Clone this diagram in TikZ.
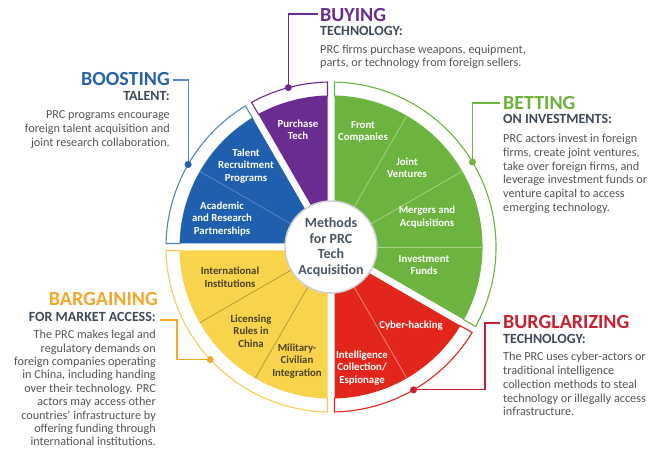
\documentclass[tikz,border=0pt]{standalone}
\usepackage{fontspec}
\setmainfont{Carlito}
\usetikzlibrary{calc}

\definecolor{cPurple}{HTML}{6B2C91}
\definecolor{cBlue}{HTML}{1F5FAE}
\definecolor{cGreen}{HTML}{6DB33F}
\definecolor{cRed}{HTML}{E2261C}
\definecolor{cYellow}{HTML}{F8D44C}
\definecolor{lBlue}{HTML}{5A86C6}
\definecolor{lGreen}{HTML}{A9D383}
\definecolor{lRed}{HTML}{F0847A}
\definecolor{lYellow}{HTML}{B59A35}
\definecolor{rYellow}{HTML}{F3CF52}
\definecolor{hBlue}{HTML}{2A62AA}
\definecolor{hPurple}{HTML}{6B2E8F}
\definecolor{hGreen}{HTML}{6CB23A}
\definecolor{hRed}{HTML}{C8202F}
\definecolor{hOrange}{HTML}{F5A62B}
\definecolor{subText}{HTML}{3F4A56}
\definecolor{bodyText}{HTML}{555555}
\definecolor{hubText}{HTML}{4A5560}
\definecolor{hubLine}{HTML}{CFCFCF}
\definecolor{darkLabel}{HTML}{4B4226}

% one group of methods: outlined outer band plus filled wedge
% #1 start angle, #2 end angle, #3 wedge colour, #4 band outline colour
\newcommand\methodgroup[4]{%
  \filldraw[fill=white, draw=#4, line width=1.1pt]
    ({#1+1.22}:165) arc[start angle={#1+1.22}, end angle={#2-1.22}, radius=165]
    -- ({#2-1.33}:151) arc[start angle={#2-1.33}, end angle={#1+1.33}, radius=151] -- cycle;
  \fill[#3] ({#1+5.02}:40) -- ({#1+1.33}:151)
    arc[start angle={#1+1.33}, end angle={#2-1.33}, radius=151]
    -- ({#2-5.02}:40) -- cycle;
}

\tikzset{
  head/.style={font=\fontsize{20}{22}\selectfont\bfseries, inner sep=0pt},
  subhead/.style={font=\fontsize{14}{16}\selectfont\bfseries, text=subText, inner sep=0pt},
  body/.style={font=\fontsize{12.2}{13.8}\selectfont, text=bodyText, inner sep=0pt},
  wlabel/.style={font=\fontsize{10.8}{12.5}\selectfont\bfseries, text=white, align=center, inner sep=0pt},
  divider/.style={line width=0.8pt},
  callout/.style={line width=1.1pt},
  dot/.style={circle, fill, inner sep=0pt, minimum size=7pt},
}

\begin{document}
\begin{tikzpicture}[x=1pt,y=1pt]
\useasboundingbox (0,0) rectangle (651,450);
\fill[white] (0,0) rectangle (651,450);

\begin{scope}[shift={(331,203)}]
  \methodgroup{90}{120}{cPurple}{cPurple}
  \methodgroup{120}{180}{cBlue}{lBlue}
  \methodgroup{180}{270}{cYellow}{rYellow}
  \methodgroup{270}{330}{cRed}{cRed}
  \methodgroup{-30}{90}{cGreen}{cGreen}

  % dividers between the single methods of a group
  \draw[divider, lBlue] (150:46) -- (150:151);
  \draw[divider, lYellow] (210:46) -- (210:151);
  \draw[divider, lYellow] (240:46) -- (240:151);
  \draw[divider, lRed] (300:46) -- (300:151);
  \draw[divider, lGreen] (0:46) -- (0:151);
  \draw[divider, lGreen] (30:46) -- (30:151);
  \draw[divider, lGreen] (60:46) -- (60:151);

  \node[circle, fill=white, draw=hubLine, line width=1.5pt, minimum size=92pt, inner sep=0pt] (hub) at (0,0) {};

  \coordinate (dBoost) at (150:165);
  \coordinate (dBuy) at (105:165);
  \coordinate (dBet) at (31:165);
  \coordinate (dBurg) at (-60:165);
  \coordinate (dBarg) at (223:165);
\end{scope}

\node[font=\fontsize{14}{15.5}\selectfont\bfseries, text=hubText, align=center, inner sep=0pt] (hubText) at (hub.center) {Methods\\for PRC\\Tech\\Acquisition};

% labels inside the wedges
\node[wlabel] (purchase) at (298,320) {Purchase\\Tech};
\node[wlabel] (talent) at (246,284) {Talent\\Recruitment\\Programs};
\node[wlabel] (academic) at (222,231) {Academic\\and Research\\Partnerships};
\node[wlabel] (front) at (363,318) {Front\\Companies};
\node[wlabel] (joint) at (407,282) {Joint\\Ventures};
\node[wlabel] (mergers) at (427,233) {Mergers and\\Acquisitions};
\node[wlabel] (funds) at (424,185) {Investment\\Funds};
\node[wlabel] (cyber) at (411,124) {Cyber-hacking};
\node[wlabel] (intel) at (362,82) {Intelligence\\Collection/\\Espionage};
\node[wlabel, text=darkLabel] (intl) at (230,173) {International\\Institutions};
\node[wlabel, text=darkLabel] (licensing) at (251,119) {Licensing\\Rules in\\China};
\node[wlabel, text=darkLabel] (military) at (297,89) {Military-\\Civilian\\Integration};

% BOOSTING
\node[head, text=hBlue, anchor=base east] (boostHead) at (170,364) {BOOSTING};
\node[subhead, anchor=base east] (boostSub) at (170,349) {TALENT:};
\node[body, anchor=north east, align=right] (boostBody) at (170,339.5) {PRC programs encourage\\foreign talent acquisition and\\joint research collaboration.};
\coordinate (kBoost) at (173,370);
\draw[callout, lBlue] (dBoost) |- (kBoost);
\node[dot, cBlue] at (dBoost) {};

% BUYING
\node[head, text=hPurple, anchor=base west] (buyHead) at (320,428.5) {BUYING};
\node[subhead, anchor=base west] (buySub) at (320,414) {TECHNOLOGY:};
\node[body, anchor=north west, align=left] (buyBody) at (320,405.5) {PRC firms purchase weapons, equipment,\\parts, or technology from foreign sellers.};
\coordinate (kBuy) at (318,436);
\draw[callout, cPurple] (dBuy) |- (kBuy);
\node[dot, cPurple] at (dBuy) {};

% BETTING
\node[head, text=hGreen, anchor=base west] (betHead) at (503,340.5) {BETTING};
\node[subhead, anchor=base west] (betSub) at (503,326) {ON INVESTMENTS:};
\node[body, anchor=north west, align=left] (betBody) at (503,316) {PRC actors invest in foreign\\firms, create joint ventures,\\take over foreign firms, and\\leverage investment funds or\\venture capital to access\\emerging technology.};
\coordinate (kBet) at (500,347);
\draw[callout, cGreen] (dBet) |- (kBet);
\node[dot, cGreen] at (dBet) {};

% BURGLARIZING
\node[head, text=hRed, anchor=base west] (burgHead) at (503,121.5) {BURGLARIZING};
\node[subhead, anchor=base west] (burgSub) at (503,106) {TECHNOLOGY:};
\node[body, anchor=north west, align=left] (burgBody) at (503,98) {The PRC uses cyber-actors or\\traditional intelligence\\collection methods to steal\\technology or illegally access\\infrastructure.};
\coordinate (jBurg) at (485,127);
\coordinate (kBurg) at (500,127);
\draw[callout, hRed] (dBurg) -| (jBurg) -- (kBurg);
\node[dot, hRed] at (dBurg) {};

% BARGAINING
\node[head, text=hOrange, anchor=base east] (bargHead) at (158,144) {BARGAINING};
\node[subhead, anchor=base east] (bargSub) at (156,128.5) {FOR MARKET ACCESS:};
\node[body, anchor=north east, align=right, font=\fontsize{12.2}{13.4}\selectfont] (bargBody) at (156,120) {The PRC makes legal and\\regulatory demands on\\foreign companies operating\\in China, including handing\\over their technology. PRC\\actors may access other\\countries' infrastructure by\\offering funding through\\international institutions.};
\coordinate (jBarg) at (177,130);
\coordinate (kBarg) at (160,130);
\draw[callout, hOrange] (dBarg) -| (jBarg) -- (kBarg);
\node[dot, hOrange] at (dBarg) {};
\end{tikzpicture}
\end{document}
